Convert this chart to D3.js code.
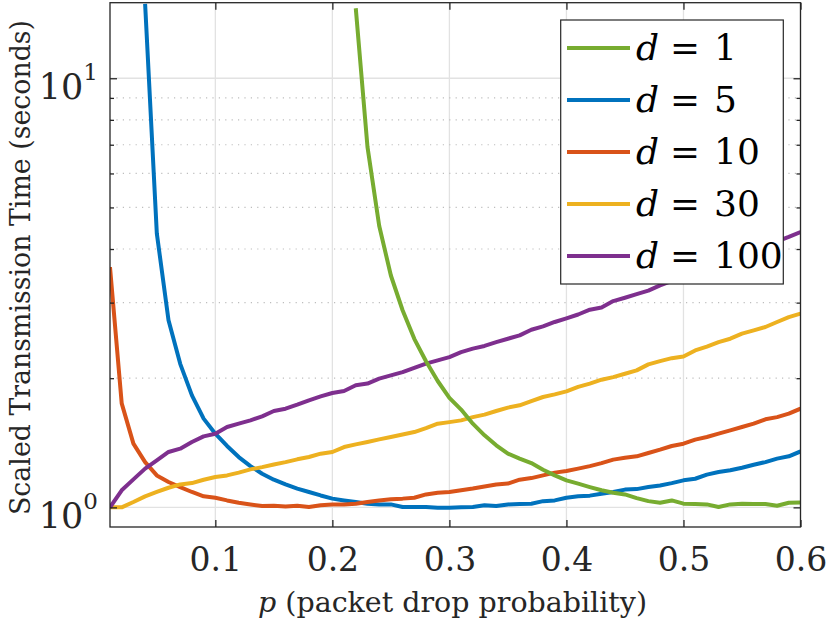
<!DOCTYPE html>
<html>
<head>
<meta charset="utf-8">
<script src="https://cdn.jsdelivr.net/npm/d3@7"></script>
<style>
  body { margin: 0; background: #ffffff; }
  svg { display: block; }
</style>
</head>
<body>
<svg id="chart" width="830" height="620"></svg>
<script>
// ---------------- data ----------------
const pValues = [0.01,0.02,0.03,0.04,0.05,0.06,0.07,0.08,0.09,0.10,
                 0.11,0.12,0.13,0.14,0.15,0.16,0.17,0.18,0.19,0.20,
                 0.21,0.22,0.23,0.24,0.25,0.26,0.27,0.28,0.29,0.30,
                 0.31,0.32,0.33,0.34,0.35,0.36,0.37,0.38,0.39,0.40,
                 0.41,0.42,0.43,0.44,0.45,0.46,0.47,0.48,0.49,0.50,
                 0.51,0.52,0.53,0.54,0.55,0.56,0.57,0.58,0.59,0.60];

const timeD1 = [null,null,null,null,null,null,null,null,null,null,
                null,null,null,null,null,null,null,null,null,null,
                null,14.56,6.92,4.53,3.47,2.88,2.47,2.19,1.97,1.80,
                1.69,1.567,1.472,1.395,1.334,1.299,1.268,1.224,1.187,1.156,
                1.136,1.115,1.096,1.082,1.072,1.051,1.034,1.025,1.038,1.020,
                1.018,1.016,1.002,1.016,1.020,1.018,1.018,1.009,1.025,1.027];

const timeD5 = [null,null,null,14.9,4.35,2.73,2.16,1.824,1.61,1.485,
                1.39,1.31,1.248,1.198,1.16,1.131,1.106,1.086,1.066,1.048,
                1.038,1.029,1.020,1.016,1.016,1.002,1.002,1.002,0.998,0.998,
                1.000,1.002,1.011,1.007,1.016,1.018,1.020,1.034,1.038,1.053,
                1.061,1.065,1.076,1.086,1.100,1.103,1.115,1.125,1.139,1.156,
                1.166,1.192,1.209,1.220,1.237,1.257,1.275,1.299,1.315,1.350];

const timeD10 = [3.63,1.747,1.408,1.275,1.187,1.146,1.115,1.086,1.061,1.053,
                 1.038,1.025,1.016,1.007,1.009,1.005,1.009,1.002,1.011,1.015,
                 1.016,1.020,1.029,1.038,1.045,1.048,1.053,1.072,1.082,1.086,
                 1.096,1.106,1.119,1.130,1.136,1.160,1.170,1.187,1.205,1.215,
                 1.231,1.248,1.268,1.292,1.305,1.315,1.339,1.363,1.390,1.407,
                 1.438,1.459,1.485,1.512,1.539,1.567,1.604,1.623,1.653,1.698];

const timeD30 = [1.000,1.000,1.029,1.061,1.086,1.111,1.131,1.139,1.160,1.177,
                 1.187,1.205,1.226,1.241,1.259,1.275,1.294,1.310,1.334,1.346,
                 1.382,1.402,1.420,1.440,1.459,1.479,1.498,1.530,1.567,1.580,
                 1.595,1.623,1.645,1.677,1.708,1.729,1.769,1.808,1.834,1.864,
                 1.909,1.943,1.984,2.012,2.048,2.086,2.154,2.192,2.227,2.248,
                 2.321,2.370,2.427,2.472,2.540,2.586,2.632,2.704,2.776,2.829];

const timeD100 = [1.000,1.096,1.162,1.231,1.287,1.346,1.370,1.420,1.464,1.485,
                  1.539,1.567,1.595,1.630,1.677,1.698,1.735,1.776,1.814,1.847,
                  1.867,1.925,1.943,1.995,2.030,2.066,2.115,2.162,2.200,2.240,
                  2.300,2.344,2.378,2.427,2.472,2.516,2.594,2.641,2.704,2.757,
                  2.815,2.888,2.922,3.025,3.080,3.140,3.200,3.290,3.370,3.450,
                  3.530,3.610,3.690,3.780,3.870,3.970,4.070,4.170,4.270,4.380];

const seriesLabels = ["1", "5", "10", "30", "100"];
const xTickValues = [0.1, 0.2, 0.3, 0.4, 0.5, 0.6];
const xTickLabels = ["0.1", "0.2", "0.3", "0.4", "0.5", "0.6"];
const yMajorValues = [1, 10];
const yMajorExponents = ["0", "1"];
const yMinorValues = [2, 3, 4, 5, 6, 7, 8, 9];

// ---------------- styles ----------------
const FONT = "'DejaVu Serif', 'Liberation Serif', serif";
const seriesData = [timeD1, timeD5, timeD10, timeD30, timeD100];
const seriesColors = ["#77AC30", "#0072BD", "#D95319", "#EDB120", "#7E2F8E"];
const drawOrder = [1, 2, 3, 4, 0];

const L = 110, R = 800.5, T = 2.7, B = 527;
const axisColor = "#262626";

const svg = d3.select("#chart");
const x = d3.scaleLinear().domain([0.01, 0.6]).range([L, R]);
const y = d3.scaleLog().domain([0.9, 15]).range([B, T]);

function txt(sel) { return sel.attr("font-family", FONT).style("font-family", FONT); }

// clip
svg.append("defs").append("clipPath").attr("id", "plotClip")
  .append("rect").attr("x", L).attr("y", T).attr("width", R - L).attr("height", B - T);

svg.append("rect").attr("x", L).attr("y", T).attr("width", R - L).attr("height", B - T).attr("fill", "#fff");

// grid
const grid = svg.append("g");
grid.selectAll(".vg").data(xTickValues).join("line")
  .attr("x1", d => x(d)).attr("x2", d => x(d)).attr("y1", T).attr("y2", B)
  .attr("stroke", "#e2e2e2").attr("stroke-width", 1.3);
grid.selectAll(".hg").data(yMajorValues).join("line")
  .attr("x1", L).attr("x2", R).attr("y1", d => y(d)).attr("y2", d => y(d))
  .attr("stroke", "#e2e2e2").attr("stroke-width", 1.3);
grid.selectAll(".mg").data(yMinorValues).join("line")
  .attr("x1", L).attr("x2", R).attr("y1", d => y(d)).attr("y2", d => y(d))
  .attr("stroke", "#bdbdbd").attr("stroke-width", 1.2).attr("stroke-dasharray", "1.2,5.2");

// lines
const lineGen = d3.line()
  .defined(d => d[1] != null)
  .x(d => x(d[0])).y(d => y(d[1]));
const lines = svg.append("g").attr("clip-path", "url(#plotClip)");
drawOrder.forEach(i => {
  const pts = pValues.map((p, k) => [p, seriesData[i][k]]);
  lines.append("path").datum(pts)
    .attr("d", lineGen)
    .attr("fill", "none")
    .attr("stroke", seriesColors[i])
    .attr("stroke-width", 4)
    .attr("stroke-linejoin", "round");
});

// axes ticks
function styleAxis(g) {
  g.attr("font-family", FONT);
  g.select(".domain").remove();
  g.selectAll(".tick line").attr("stroke", axisColor).attr("stroke-width", 1.3);
}
svg.append("g").attr("transform", `translate(0,${B})`)
  .call(d3.axisBottom(x).tickValues(xTickValues).tickSize(-7).tickPadding(21)
        .tickFormat((d, i) => xTickLabels[i]))
  .call(styleAxis)
  .call(g => g.selectAll(".tick text").attr("font-size", 33).attr("fill", axisColor).call(txt));
svg.append("g").attr("transform", `translate(0,${T})`)
  .call(d3.axisTop(x).tickValues(xTickValues).tickSize(-7).tickFormat(""))
  .call(styleAxis);
svg.append("g").attr("transform", `translate(${L},0)`)
  .call(d3.axisLeft(y).tickValues(yMajorValues).tickSize(-7).tickFormat(""))
  .call(styleAxis);
svg.append("g").attr("transform", `translate(${L},0)`)
  .call(d3.axisLeft(y).tickValues(yMinorValues).tickSize(-4).tickFormat(""))
  .call(styleAxis);
svg.append("g").attr("transform", `translate(${R},0)`)
  .call(d3.axisRight(y).tickValues(yMajorValues).tickSize(-7).tickFormat(""))
  .call(styleAxis);
svg.append("g").attr("transform", `translate(${R},0)`)
  .call(d3.axisRight(y).tickValues(yMinorValues).tickSize(-4).tickFormat(""))
  .call(styleAxis);

// y tick labels with superscripts
const yl = svg.append("g");
yMajorValues.forEach((v, i) => {
  const t = yl.append("text")
    .attr("x", 98).attr("y", y(v) + 21)
    .attr("text-anchor", "end").attr("font-size", 35).attr("fill", axisColor).call(txt);
  t.append("tspan").text("10");
  t.append("tspan").attr("font-size", 23).attr("dy", -19).text(yMajorExponents[i]);
});

// frame
svg.append("rect").attr("x", L).attr("y", T).attr("width", R - L).attr("height", B - T)
  .attr("fill", "none").attr("stroke", axisColor).attr("stroke-width", 1.3);

// axis titles
const xt = svg.append("text").attr("x", 452.5).attr("y", 611.5)
  .attr("text-anchor", "middle").attr("font-size", 27).attr("fill", axisColor)
  .attr("textLength", 389).attr("lengthAdjust", "spacingAndGlyphs").call(txt);
xt.append("tspan").attr("font-style", "italic").text("p");
xt.append("tspan").text(" (packet drop probability)");

svg.append("text")
  .attr("transform", `translate(30,${267.5}) rotate(-90)`)
  .attr("text-anchor", "middle").attr("font-size", 27).attr("fill", axisColor)
  .attr("textLength", 495).attr("lengthAdjust", "spacingAndGlyphs").call(txt)
  .text("Scaled Transmission Time (seconds)");

// legend
const lg = svg.append("g");
lg.append("rect").attr("x", 560.7).attr("y", 20).attr("width", 222.6).attr("height", 264)
  .attr("fill", "#fff").attr("stroke", axisColor).attr("stroke-width", 1.2);
seriesLabels.forEach((lab, i) => {
  const cy = 48 + i * 52;
  lg.append("line").attr("x1", 567).attr("x2", 630).attr("y1", cy).attr("y2", cy)
    .attr("stroke", seriesColors[i]).attr("stroke-width", 4);
  lg.append("text").attr("x", 636).attr("y", cy + 12).attr("font-size", 36)
    .attr("font-style", "italic").attr("fill", "#000").call(txt).text("d");
  lg.append("text").attr("x", 670).attr("y", cy + 12).attr("font-size", 36)
    .attr("textLength", 30).attr("lengthAdjust", "spacingAndGlyphs")
    .attr("fill", "#000").call(txt).text("=");
  lg.append("text").attr("x", 714).attr("y", cy + 12).attr("font-size", 36)
    .attr("fill", "#000").call(txt).text(lab);
});
</script>
</body>
</html>
